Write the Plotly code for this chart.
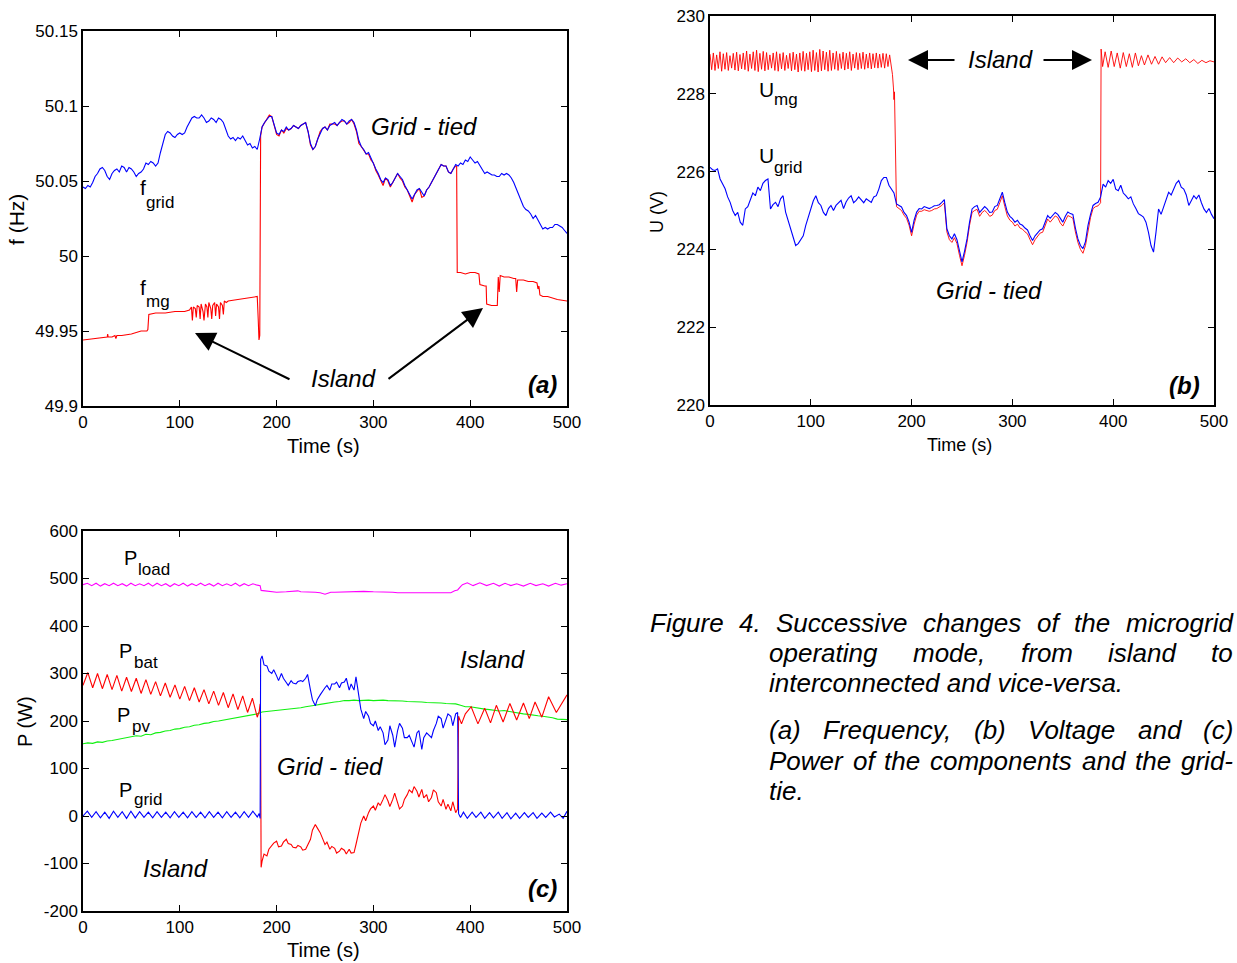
import numpy as np
import plotly.graph_objects as go

W, H = 1237, 963
FONT = "Liberation Sans, Arial, sans-serif"
RED, BLUE, MAG, GREEN = "#FF0000", "#0000FF", "#FF00FF", "#11F011"

# =============== DATA =====================================================
# ---- (a) frequency (Hz) ----
t_fgrid = np.linspace(0, 500, 201)          # 2.5 s sampling
f_grid = [
    50.046, 50.045, 50.047, 50.046, 50.049, 50.053, 50.055, 50.058, 50.059, 50.057,
    50.053, 50.051, 50.055, 50.057, 50.058, 50.056, 50.060, 50.059, 50.056, 50.059,
    50.058, 50.056, 50.053, 50.055, 50.056, 50.058, 50.062, 50.061, 50.063, 50.062,
    50.060, 50.062, 50.069, 50.076, 50.081, 50.083, 50.082, 50.080, 50.079, 50.081,
    50.082, 50.081, 50.082, 50.086, 50.089, 50.092, 50.093, 50.092, 50.092, 50.094,
    50.092, 50.089, 50.090, 50.092, 50.091, 50.089, 50.092, 50.091, 50.089, 50.084,
    50.080, 50.078, 50.079, 50.077, 50.079, 50.078, 50.080, 50.077, 50.074, 50.075,
    50.072, 50.073, 50.071, 50.078, 50.086, 50.089, 50.091, 50.093, 50.093, 50.088,
    50.082, 50.081, 50.084, 50.083, 50.086, 50.084, 50.085, 50.087, 50.086, 50.085,
    50.087, 50.088, 50.089, 50.083, 50.075, 50.071, 50.073, 50.078, 50.082, 50.085,
    50.086, 50.084, 50.087, 50.088, 50.089, 50.087, 50.089, 50.091, 50.090, 50.088,
    50.090, 50.091, 50.089, 50.084, 50.077, 50.073, 50.071, 50.068, 50.069, 50.065,
    50.062, 50.058, 50.055, 50.051, 50.049, 50.052, 50.051, 50.047, 50.049, 50.052,
    50.055, 50.053, 50.051, 50.047, 50.044, 50.041, 50.038, 50.041, 50.044, 50.045,
    50.042, 50.040, 50.044, 50.046, 50.049, 50.052, 50.055, 50.058, 50.061, 50.060,
    50.060, 50.056, 50.055, 50.058, 50.061, 50.060, 50.062, 50.061, 50.064, 50.063,
    50.066, 50.064, 50.062, 50.063, 50.060, 50.058, 50.055, 50.056, 50.055, 50.054,
    50.054, 50.053, 50.053, 50.055, 50.054, 50.055, 50.054, 50.052, 50.049, 50.045,
    50.041, 50.036, 50.033, 50.031, 50.030, 50.028, 50.025, 50.027, 50.024, 50.021,
    50.018, 50.019, 50.018, 50.019, 50.019, 50.021, 50.021, 50.020, 50.019, 50.017,
    50.015]

f_mg_island1 = [
    (0, 49.944), (10, 49.945), (20, 49.946), (25, 49.946), (25.5, 49.948), (26, 49.946),
    (30, 49.946), (33, 49.947), (34, 49.945), (35, 49.947), (40, 49.947), (50, 49.948),
    (60, 49.950), (66, 49.950), (67, 49.951), (68, 49.961), (75, 49.962), (85, 49.962),
    (95, 49.963), (105, 49.963), (110, 49.964), (112, 49.966), (113, 49.957), (114, 49.966),
    (116, 49.965), (117, 49.959), (118, 49.967), (120, 49.966), (121, 49.958), (122, 49.968),
    (124, 49.963), (125, 49.957), (126.5, 49.968), (128, 49.966), (129, 49.959), (130, 49.969),
    (132, 49.965), (133, 49.958), (134, 49.967), (136, 49.969), (137, 49.960), (138, 49.968),
    (140, 49.966), (141, 49.958), (142, 49.969), (144, 49.967), (145, 49.961), (146, 49.970),
    (148, 49.969), (150, 49.970),
    (160, 49.971), (170, 49.972), (178, 49.973), (180, 49.973), (181, 49.958),
    (181.8, 49.944), (182.6, 49.947), (183.5, 50.080)]
t_fmg_tied = np.linspace(185, 385, 81)
f_mg_tied = [
    50.086, 50.089, 50.092, 50.094, 50.093, 50.087, 50.081, 50.080, 50.084, 50.082,
    50.085, 50.084, 50.085, 50.087, 50.086, 50.085, 50.087, 50.088, 50.089, 50.083,
    50.074, 50.071, 50.073, 50.078, 50.083, 50.085, 50.086, 50.084, 50.088, 50.088,
    50.088, 50.087, 50.089, 50.090, 50.090, 50.088, 50.089, 50.091, 50.088, 50.083,
    50.075, 50.073, 50.070, 50.068, 50.068, 50.064, 50.062, 50.057, 50.054, 50.050,
    50.047, 50.052, 50.050, 50.046, 50.049, 50.051, 50.055, 50.052, 50.050, 50.046,
    50.044, 50.040, 50.036, 50.041, 50.043, 50.045, 50.039, 50.040, 50.044, 50.046,
    50.049, 50.052, 50.056, 50.058, 50.061, 50.060, 50.060, 50.056, 50.055, 50.058,
    50.060]
f_mg_island2 = [
    (386, 50.060), (386.6, 49.989), (390, 49.989), (395, 49.988), (400, 49.989),
    (405, 49.989), (409, 49.988), (410, 49.981), (415, 49.980), (416.5, 49.980),
    (417, 49.968), (422, 49.967), (428, 49.967), (429, 49.986), (430, 49.976),
    (431, 49.987), (435, 49.986), (440, 49.986), (445, 49.985), (447, 49.985),
    (448, 49.976), (449, 49.984), (455, 49.984), (460, 49.983), (465, 49.983),
    (469, 49.982), (470, 49.978), (471, 49.980), (472, 49.974), (475, 49.973),
    (480, 49.973), (490, 49.971), (500, 49.970)]

# ---- (b) voltage (V) ----
t_ugrid = np.linspace(0, 500, 201)          # 2.5 s sampling
u_grid = [
    226.11, 226.05, 226.03, 226.07, 225.81, 225.70, 225.56, 225.35, 225.21, 225.00,
    224.87, 224.95, 224.70, 224.62, 225.04, 225.10, 225.30, 225.45, 225.38, 225.60,
    225.51, 225.70, 225.77, 225.81, 225.04, 225.15, 225.21, 225.10, 225.30, 225.38,
    224.96, 224.75, 224.53, 224.30, 224.10, 224.15, 224.27, 224.35, 224.62, 224.85,
    225.04, 225.25, 225.38, 225.20, 225.13, 224.95, 224.87, 225.05, 225.13, 225.00,
    225.13, 225.20, 225.26, 225.05, 225.22, 225.32, 225.38, 225.20, 225.26, 225.35,
    225.26, 225.20, 225.30, 225.25, 225.21, 225.35, 225.38, 225.55, 225.77, 225.85,
    225.85, 225.65, 225.56, 225.45, 225.17, 225.12, 225.09, 224.95, 224.87, 224.70,
    224.44, 224.75, 224.96, 225.05, 225.04, 225.10, 225.08, 225.05, 225.08, 225.12,
    225.13, 225.15, 225.21, 225.28, 224.53, 224.35, 224.27, 224.40, 224.25, 223.95,
    223.68, 223.95, 224.27, 224.70, 225.04, 225.10, 225.13, 224.95, 225.04, 225.10,
    225.04, 224.95, 224.96, 225.10, 225.13, 225.30, 225.47, 225.20, 224.96, 224.85,
    224.79, 224.70, 224.75, 224.65, 224.62, 224.55, 224.50, 224.35, 224.23, 224.35,
    224.44, 224.50, 224.53, 224.70, 224.87, 224.80, 224.87, 224.95, 224.90, 224.78,
    224.70, 224.85, 224.96, 224.92, 224.90, 224.55, 224.27, 224.10, 224.02, 224.20,
    224.62, 224.90, 225.13, 225.18, 225.21, 225.35, 225.68, 225.60, 225.77, 225.70,
    225.80, 225.55, 225.51, 225.65, 225.45, 225.38, 225.30, 225.35, 225.17, 225.05,
    224.92, 224.88, 224.83, 224.70, 224.44, 224.10, 223.93, 224.45, 225.04, 224.90,
    225.10, 225.30, 225.47, 225.40, 225.56, 225.70, 225.77, 225.60, 225.55, 225.40,
    225.13, 225.25, 225.38, 225.30, 225.40, 225.20, 225.04, 224.95, 225.05, 224.90,
    224.79]

t_umg_island1 = np.linspace(0, 178.2, 109)  # 1.65 s sampling
u_mg_island1 = [
    229.02, 228.62, 229.05, 228.60, 229.00, 228.65, 229.08, 228.58, 229.03, 228.63,
    229.06, 228.60, 228.98, 228.66, 229.04, 228.61, 229.07, 228.59, 229.01, 228.64,
    229.05, 228.62, 229.10, 228.58, 229.02, 228.65, 229.08, 228.60, 229.12, 228.57,
    229.04, 228.63, 229.09, 228.59, 229.06, 228.62, 229.00, 228.66, 229.05, 228.60,
    229.08, 228.58, 229.03, 228.64, 229.06, 228.60, 228.99, 228.65, 229.04, 228.59,
    229.07, 228.62, 229.02, 228.56, 229.05, 228.60, 229.09, 228.58, 229.04, 228.62,
    229.08, 228.57, 229.12, 228.60, 229.06, 228.56, 229.14, 228.59, 229.10, 228.62,
    229.07, 228.58, 229.12, 228.60, 229.05, 228.63, 229.09, 228.60, 229.03, 228.65,
    229.07, 228.61, 229.04, 228.64, 229.08, 228.60, 229.02, 228.66, 229.06, 228.62,
    229.04, 228.65, 229.07, 228.63, 229.02, 228.66, 229.05, 228.64, 229.03, 228.67,
    229.05, 228.66, 229.02, 228.68, 229.04, 228.66, 229.03, 228.70, 229.00]
u_mg_transition = [
    (179, 228.85), (180, 228.80), (181, 228.50), (182, 228.15), (182.5, 227.85),
    (183, 228.05), (183.5, 227.30), (184, 225.50)]
t_umg_tied = np.linspace(185, 387.5, 82)
u_mg_tied = [
    225.10, 225.05, 225.00, 224.88, 224.80, 224.62, 224.35, 224.65, 224.88, 224.98,
    224.98, 225.02, 225.00, 224.98, 225.00, 225.04, 225.05, 225.08, 225.13, 225.20,
    224.45, 224.25, 224.18, 224.30, 224.15, 223.85, 223.58, 223.85, 224.18, 224.62,
    224.95, 225.00, 225.03, 224.85, 224.95, 225.00, 224.94, 224.85, 224.88, 225.00,
    225.03, 225.20, 225.38, 225.10, 224.86, 224.75, 224.70, 224.60, 224.65, 224.55,
    224.52, 224.45, 224.40, 224.25, 224.12, 224.25, 224.34, 224.42, 224.44, 224.60,
    224.78, 224.70, 224.78, 224.86, 224.82, 224.68, 224.60, 224.76, 224.87, 224.84,
    224.80, 224.45, 224.18, 224.00, 223.90, 224.10, 224.52, 224.82, 225.05, 225.10,
    225.12, 225.20]
u_mg_island2 = [
    (388, 229.15), (389.5, 228.70), (392, 229.08), (395, 228.68), (398, 229.10),
    (401, 228.70), (404, 229.05), (407, 228.66), (410, 229.06), (413, 228.70),
    (416, 229.03), (419, 228.68), (422, 229.05), (425, 228.72), (428, 228.98),
    (431, 228.74), (434.5, 229.00), (438, 228.76), (441.5, 228.96), (445, 228.76),
    (448.5, 228.95), (452, 228.80), (456, 228.93), (460, 228.80), (464, 228.92),
    (468, 228.82), (472, 228.90), (476, 228.80), (480, 228.88), (484, 228.78),
    (488, 228.86), (492, 228.80), (496, 228.85), (500, 228.82)]

# ---- (c) power (W) ----
t_pload_island1 = np.linspace(0, 180, 41)   # 4.5 s sampling
p_load_island1 = [
    487, 490, 485, 490, 484, 489, 485, 490, 485, 489,
    484, 490, 485, 489, 485, 490, 484, 490, 485, 489,
    483, 489, 485, 490, 484, 489, 485, 490, 485, 489,
    484, 490, 485, 489, 485, 490, 484, 489, 485, 489,
    486]
p_load_rest = [
    (182, 486), (183, 485), (184, 475), (190, 474), (195, 473), (200, 471), (210, 472),
    (220, 473), (222, 474), (225, 472), (230, 472), (240, 471), (245, 470), (248, 469),
    (250, 467), (253, 469), (256, 471), (260, 471), (270, 472), (280, 472), (290, 473),
    (300, 472), (310, 472), (320, 471), (325, 470), (340, 470), (355, 470), (365, 469),
    (370, 469), (380, 470), (384, 474), (387, 476), (390, 483), (392, 487), (397, 491),
    (403, 485), (410, 491), (417, 485), (424, 490), (430, 484), (436, 490), (442, 485),
    (448, 489), (455, 484), (462, 490), (468, 485), (475, 489), (481, 484), (488, 490),
    (494, 486), (500, 489)]

t_pbat_island1 = np.linspace(0, 180, 37)    # 5 s sampling
p_bat_island1 = [
    275, 302, 270, 300, 268, 298, 266, 296, 263, 292,
    262, 290, 258, 287, 256, 283, 253, 280, 250, 276,
    246, 273, 243, 270, 240, 266, 236, 263, 233, 260,
    228, 257, 224, 253, 218, 248, 208]
p_bat_rest = [
    (182, 220), (183, 236), (183.5, 205), (184, -108), (185, -95), (187, -80), (190, -84),
    (192, -70), (195, -62), (197, -57), (200, -53), (202, -65), (205, -63), (207, -55),
    (210, -49), (212, -58), (215, -60), (217, -66), (220, -67), (222, -62), (225, -65),
    (227, -72), (230, -70), (232, -62), (235, -49), (237, -30), (240, -18), (242, -25),
    (245, -35), (247, -45), (250, -60), (252, -55), (255, -70), (257, -64), (260, -68),
    (262, -78), (265, -74), (267, -68), (270, -72), (272, -80), (275, -70), (277, -78),
    (280, -77), (282, -60), (285, -35), (287, -15), (290, 0), (292, -10), (295, 7),
    (297, 15), (300, 21), (302, 12), (305, 28), (307, 22), (310, 35), (312, 45),
    (315, 32), (317, 20), (320, 35), (322, 48), (325, 28), (327, 15), (330, 21),
    (332, 35), (335, 45), (337, 55), (340, 49), (342, 62), (345, 52), (347, 40),
    (350, 56), (352, 38), (355, 45), (357, 30), (360, 39), (362, 55), (365, 49),
    (367, 30), (370, 21), (372, 35), (375, 14), (377, 25), (380, 11), (382, 30),
    (385, 7), (387, 15), (388, 210), (391, 194), (395, 215), (401, 230), (408, 194),
    (415, 227), (421, 196), (427, 233), (434, 198), (441, 237), (448, 202), (455, 238),
    (461, 205), (467, 240), (474, 208), (481, 251), (489, 218), (495, 238), (500, 255)]

t_ppv = np.linspace(0, 500, 101)            # 5 s sampling
p_pv = [
    152, 154, 153, 156, 155, 158, 159, 161, 162, 165,
    166, 169, 168, 172, 171, 175, 176, 179, 180, 183,
    184, 187, 188, 191, 192, 195, 196, 199, 200, 202,
    203, 206, 207, 210, 211, 214, 215, 219, 220, 221,
    222, 223, 225, 226, 227, 228, 230, 231, 233, 235,
    237, 238, 240, 241, 243, 243, 244, 243, 244, 244,
    243, 244, 244, 243, 243, 242, 242, 241, 241, 240,
    240, 239, 239, 238, 238, 237, 236, 236, 233, 230,
    230, 228, 227, 225, 224, 222, 221, 222, 220, 218,
    217, 215, 214, 212, 211, 210, 209, 207, 204, 203,
    203]

t_pgrid_island1 = np.linspace(0, 180, 41)   # 4.5 s sampling
p_grid_island1 = [
    0, 10, -3, 9, -4, 8, -5, 10, -3, 9,
    -5, 10, -4, 9, -3, 8, -4, 9, -3, 8,
    -4, 9, -3, 8, -4, 9, -3, 8, -4, 9,
    -3, 8, -4, 9, -3, 8, -4, 9, -3, 10,
    -2]
p_grid_rest = [
    (182, 5), (183, -5), (183.5, 330), (185, 337), (187, 318), (190, 316), (192, 305),
    (195, 300), (197, 308), (200, 295), (202, 285), (205, 300), (207, 290), (210, 281),
    (212, 275), (215, 285), (217, 280), (220, 278), (222, 283), (225, 285), (227, 283),
    (230, 290), (232, 298), (235, 265), (237, 245), (240, 232), (242, 245), (245, 255),
    (247, 262), (250, 270), (252, 275), (255, 265), (257, 278), (260, 278), (262, 282),
    (265, 270), (267, 280), (270, 282), (272, 290), (275, 265), (277, 278), (280, 265),
    (282, 293), (285, 255), (287, 225), (290, 205), (292, 220), (295, 210), (297, 195),
    (300, 190), (302, 200), (305, 180), (307, 188), (310, 175), (312, 150), (315, 160),
    (317, 190), (320, 170), (322, 145), (325, 180), (327, 195), (330, 185), (332, 165),
    (335, 165), (337, 170), (340, 155), (342, 145), (345, 175), (347, 180), (350, 140),
    (352, 165), (355, 175), (357, 170), (360, 165), (362, 180), (365, 195), (367, 210),
    (370, 205), (372, 185), (375, 205), (377, 215), (380, 210), (382, 190), (385, 215),
    (387, 218), (388, 5), (390, -3), (393, 8), (397, -5), (402, 8), (406, -3), (411, 8),
    (415, -5), (420, 7), (424, -4), (429, 8), (433, -5), (438, 7), (442, -6), (447, 6),
    (451, -5), (456, 7), (460, -3), (465, 7), (469, -5), (474, 6), (478, -3), (483, 8),
    (487, -2), (492, 4), (496, -5), (500, 10)]

x_ticks = [0, 100, 200, 300, 400, 500]
f_ticks = [49.9, 49.95, 50, 50.05, 50.1, 50.15]
f_ticktext = ["49.9", "49.95", "50", "50.05", "50.1", "50.15"]
u_ticks = [220, 222, 224, 226, 228, 230]
p_ticks = [-200, -100, 0, 100, 200, 300, 400, 500, 600]
p_ticktext = ["-200", "-100", "0", "100", "200", "300", "400", "500", "600"]


# =============== helpers ==================================================
def join(*parts):
    xs, ys = [], []
    for p in parts:
        if isinstance(p, tuple) and len(p) == 2 and not isinstance(p[0], (int, float)):
            xs += list(p[0]); ys += list(p[1])
        else:
            xs += [a for a, _ in p]; ys += [b for _, b in p]
    return xs, ys


def line(x, y, color, xa, ya, width=1.1):
    return go.Scatter(x=x, y=y, mode="lines", line=dict(color=color, width=width),
                      xaxis=xa, yaxis=ya, showlegend=False, hoverinfo="skip")


def px(x, y):
    return x / W, 1 - y / H


def txt(text, x, y, size, xanchor="center", angle=0):
    xp, yp = px(x, y)
    return dict(text=text, x=xp, y=yp, xref="paper", yref="paper", showarrow=False,
                xanchor=xanchor, yanchor="middle", textangle=angle,
                font=dict(family=FONT, size=size, color="black"))


def arrow(tip, tail):
    xp, yp = px(*tip)
    return dict(text="", x=xp, y=yp, xref="paper", yref="paper", showarrow=True,
                ax=tail[0] - tip[0], ay=tail[1] - tip[1], axref="pixel", ayref="pixel",
                arrowhead=2, arrowsize=2, arrowwidth=2, arrowcolor="black")


# =============== traces ===================================================
fig = go.Figure()

x, y = join(f_mg_island1, (t_fmg_tied, f_mg_tied), f_mg_island2)
fig.add_trace(line(x, y, RED, "x", "y"))
fig.add_trace(line(t_fgrid, f_grid, BLUE, "x", "y"))

x, y = join((t_umg_island1, u_mg_island1), u_mg_transition, (t_umg_tied, u_mg_tied), u_mg_island2)
fig.add_trace(line(x, y, RED, "x2", "y2", width=0.9))
fig.add_trace(line(t_ugrid, u_grid, BLUE, "x2", "y2"))

x, y = join((t_pload_island1, p_load_island1), p_load_rest)
fig.add_trace(line(x, y, MAG, "x3", "y3"))
fig.add_trace(line(t_ppv, p_pv, GREEN, "x3", "y3"))
x, y = join((t_pbat_island1, p_bat_island1), p_bat_rest)
fig.add_trace(line(x, y, RED, "x3", "y3"))
x, y = join((t_pgrid_island1, p_grid_island1), p_grid_rest)
fig.add_trace(line(x, y, BLUE, "x3", "y3"))

# =============== axes =====================================================
common = dict(showline=True, linecolor="black", linewidth=1.5, mirror="ticks",
              ticks="inside", ticklen=6, tickwidth=1, tickcolor="black",
              showgrid=False, zeroline=False, automargin=False,
              tickfont=dict(family=FONT, size=17, color="black"))

dom_x_left = [83 / W, 567 / W]
dom_x_right = [710 / W, 1214 / W]

fig.update_layout(
    width=W, height=H, autosize=False,
    margin=dict(l=0, r=0, t=0, b=0, pad=0),
    paper_bgcolor="white", plot_bgcolor="white",
    xaxis=dict(domain=dom_x_left, anchor="y", range=[0, 500], tickvals=x_ticks, **common),
    yaxis=dict(domain=[1 - 406 / H, 1 - 31 / H], anchor="x", range=[49.9, 50.15],
               tickvals=f_ticks, ticktext=f_ticktext, **common),
    xaxis2=dict(domain=dom_x_right, anchor="y2", range=[0, 500], tickvals=x_ticks, **common),
    yaxis2=dict(domain=[1 - 405 / H, 1 - 16 / H], anchor="x2", range=[220, 230],
                tickvals=u_ticks, **common),
    xaxis3=dict(domain=dom_x_left, anchor="y3", range=[0, 500], tickvals=x_ticks, **common),
    yaxis3=dict(domain=[1 - 911 / H, 1 - 531 / H], anchor="x3", range=[-200, 600],
                tickvals=p_ticks, ticktext=p_ticktext, **common),
)

# =============== annotations ==============================================
ann = []
# axis titles
ann.append(txt("Time (s)", 323, 446, 20))
ann.append(txt("f (Hz)", 16, 220, 21, angle=-90))
ann.append(txt("Time (s)", 959, 445, 18))
ann.append(txt("U (V)", 657, 212, 18, angle=-90))
ann.append(txt("Time (s)", 323, 950, 20))
ann.append(txt("P (W)", 25, 722, 20, angle=-90))

# panel (a)
ann.append(txt("f", 138, 187.6, 21, "left"))
ann.append(txt("grid", 144, 202, 17, "left"))
ann.append(txt("f", 138, 287.6, 21, "left"))
ann.append(txt("mg", 144, 301, 17, "left"))
ann.append(txt("<i>Grid - tied</i>", 424, 126.6, 24))
ann.append(txt("<i>Island</i>", 343, 378.6, 24))
ann.append(txt("<b><i>(a)</i></b>", 542, 384, 24))
ann.append(arrow((195, 333), (291, 380)))
ann.append(arrow((483, 308), (387, 380)))

# panel (b)
ann.append(txt("U", 757, 89.6, 21, "left"))
ann.append(txt("mg", 772, 99, 17, "left"))
ann.append(txt("U", 757, 155.6, 21, "left"))
ann.append(txt("grid", 772, 167, 17, "left"))
ann.append(txt("<i>Island</i>", 1000, 59.6, 24))
ann.append(txt("<i>Grid - tied</i>", 989, 290.6, 24))
ann.append(txt("<b><i>(b)</i></b>", 1184, 385, 24))
ann.append(arrow((908, 60), (956, 60)))
ann.append(arrow((1092, 60), (1042, 60)))

# panel (c)
ann.append(txt("P", 122, 558, 20, "left"))
ann.append(txt("load", 136, 569, 17, "left"))
ann.append(txt("P", 117, 651, 20, "left"))
ann.append(txt("bat", 132, 662, 17, "left"))
ann.append(txt("P", 115, 715, 20, "left"))
ann.append(txt("pv", 130, 726, 17, "left"))
ann.append(txt("P", 117, 790, 20, "left"))
ann.append(txt("grid", 132, 799, 17, "left"))
ann.append(txt("<i>Island</i>", 492, 659.6, 24))
ann.append(txt("<i>Grid - tied</i>", 330, 766.6, 24))
ann.append(txt("<i>Island</i>", 175, 868.6, 24))
ann.append(txt("<b><i>(c)</i></b>", 542, 888.6, 24))

# caption (justified lines: one annotation per word)
caption_words = [
    (623, [("Figure", 648), ("4.", 737), ("Successive", 774), ("changes", 921),
           ("of", 1035), ("the", 1072), ("microgrid", 1124)]),
    (653, [("operating", 767), ("mode,", 911), ("from", 1018.5), ("island", 1106),
           ("to", 1209)]),
    (683, [("interconnected and vice-versa.", 767)]),
    (730, [("(a)", 767), ("Frequency,", 820.5), ("(b)", 972), ("Voltage", 1025.7),
           ("and", 1135.6), ("(c)", 1200.7)]),
    (761, [("Power", 767), ("of", 850.6), ("the", 882.2), ("components", 928.2),
           ("and", 1079.7), ("the", 1133), ("grid-", 1179)]),
    (791, [("tie.", 767)]),
]
for yline, words in caption_words:
    for w, xw in words:
        ann.append(txt("<i>" + w + "</i>", xw, yline, 26, "left"))

fig.update_layout(annotations=ann)
fig.write_html(
    "out.html",
    config={"displayModeBar": False},
    post_script="document.body.style.margin='0px';document.body.style.overflow='hidden';",
)
